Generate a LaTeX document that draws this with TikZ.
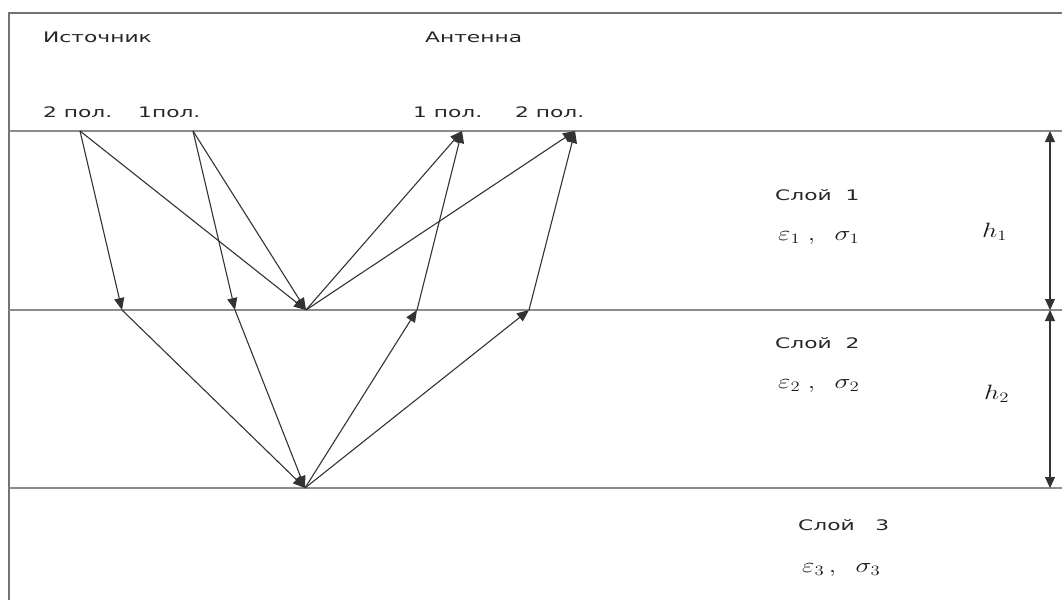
\documentclass[tikz,border=0pt]{standalone}
\usepackage{fontspec}
\setmainfont{DejaVu Sans}
\usepackage{graphicx}
\usepackage{tikz}
\usetikzlibrary{arrows.meta}
\newcommand{\wide}[1]{\scalebox{1.5}[1]{#1}}
\newcommand{\mwide}[1]{\scalebox{1.3}[1]{#1}}
\tikzset{
    frameline/.style={draw=black!55, line width=1.4pt},
    layerline/.style={draw=black!45, line width=1.6pt},
    ray/.style={draw=black!80, line width=1.1pt, ->, >={Triangle[length=12pt,width=10pt]}},
    dimarrow/.style={draw=black!80, line width=1.1pt, <->, >={Triangle[length=11pt,width=10pt]}},
    txt/.style={anchor=west, inner sep=0pt, text=black!85, font=\fontsize{14.5}{16}\selectfont},
    mathtxt/.style={anchor=west, inner sep=0pt, text=black!90, font=\fontsize{22}{24}\selectfont}
}

\begin{document}
\begin{tikzpicture}[x=1pt, y=-1pt]
    \useasboundingbox (0,0) rectangle (1062,600);

    % frame and layer boundaries
    \draw [frameline] (1062,13) -- (9,13) -- (9,600);
    \draw [layerline] (9,131) -- (1062,131);
    \draw [layerline] (9,310) -- (1062,310);
    \draw [layerline] (9,488) -- (1062,488);

    % ray points
    \coordinate (src2) at (80,131);
    \coordinate (src1) at (193,131);
    \coordinate (ant1) at (462,131);
    \coordinate (ant2) at (575,131);
    \coordinate (hit2) at (122,310);
    \coordinate (hit1) at (235,310);
    \coordinate (refl) at (306,310);
    \coordinate (up1) at (417,310);
    \coordinate (up2) at (529,310);
    \coordinate (deep) at (305,488);

    % labels
    \node (src) [txt] at (43,37) {\wide{Источник}};
    \node (ant) [txt] at (425,37) {\wide{Антенна}};
    \node (srcpol2) [txt] at (43,112) {\wide{2 пол.}};
    \node (srcpol1) [txt] at (138,112) {\wide{1пол.}};
    \node (antpol1) [txt] at (413,112) {\wide{1 пол.}};
    \node (antpol2) [txt] at (515,112) {\wide{2 пол.}};

    \node (lay1) [txt] at (775,195) {\wide{Слой\ \ 1}};
    \node (par1) [mathtxt] at (778,238) {\mwide{$\varepsilon_1\;,\;\;\sigma_1$}};
    \node (lay2) [txt] at (775,343) {\wide{Слой\ \ 2}};
    \node (par2) [mathtxt] at (778,386) {\mwide{$\varepsilon_2\;,\;\;\sigma_2$}};
    \node (lay3) [txt] at (798,525) {\wide{Слой\ \ \ 3}};
    \node (par3) [mathtxt] at (802,570) {\mwide{$\varepsilon_3\,,\;\;\sigma_3$}};
    \node (h1) [mathtxt] at (982,232) {\mwide{$h_1$}};
    \node (h2) [mathtxt] at (984,394) {\mwide{$h_2$}};

    % rays
    \draw [ray] (src2) -- (hit2);
    \draw [ray] (src2) -- (refl);
    \draw [ray] (src1) -- (hit1);
    \draw [ray] (src1) -- (refl);
    \draw [ray] (refl) -- (ant1);
    \draw [ray] (refl) -- (ant2);
    \draw [ray] (hit2) -- (deep);
    \draw [ray] (hit1) -- (deep);
    \draw [ray] (deep) -- (up1);
    \draw [ray] (deep) -- (up2);
    \draw [ray] (up1) -- (ant1);
    \draw [ray] (up2) -- (ant2);

    % layer thickness
    \coordinate (d0) at (1050,131);
    \coordinate (d1) at (1050,310);
    \coordinate (d2) at (1050,488);
    \draw [dimarrow] (d0) -- (d1);
    \draw [dimarrow] (d1) -- (d2);
\end{tikzpicture}
\end{document}
